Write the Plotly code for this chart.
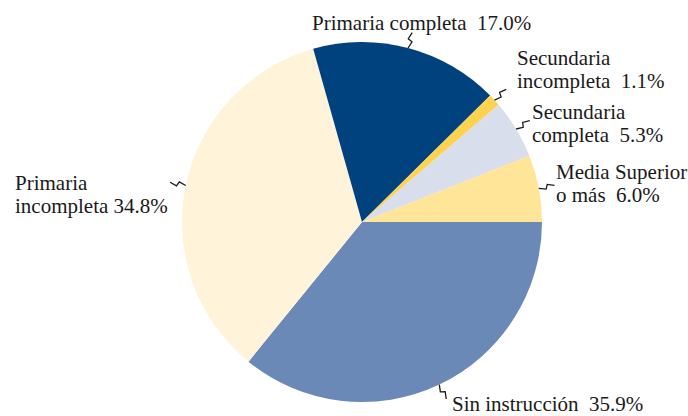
import math
import plotly.graph_objects as go

# ---- data ----
categories = ["Sin instrucción", "Primaria incompleta", "Primaria completa",
              "Secundaria incompleta", "Secundaria completa", "Media Superior o más"]
values = [35.9, 34.8, 17.0, 1.1, 5.3, 6.0]
label_lines = [["Sin instrucción"], ["Primaria", "incompleta"], ["Primaria completa"],
               ["Secundaria", "incompleta"], ["Secundaria", "completa"], ["Media Superior", "o más"]]
pct_sep = ["\u00a0\u00a0", " ", "\u00a0\u00a0", "\u00a0\u00a0", "\u00a0\u00a0", "\u00a0\u00a0"]

# ---- style / layout ----
colors = ["#6b89b6", "#fff4da", "#00427e", "#fdd24e", "#d8deeb", "#ffe598"]
W, H = 688, 416
CX, CY, R = 362, 222, 180
label_pos = [(450, 404), (13, 183), (310, 23), (515, 58), (530, 112), (554, 172)]
LINE_GAP = 23
FONT = dict(family="Liberation Serif, Times New Roman, serif", size=21, color="#1a1a1a")

def px(x):
    return x / W

def py(y):
    return 1 - y / H

fig = go.Figure(go.Pie(
    labels=categories, values=values, sort=False, direction="clockwise", rotation=90,
    marker=dict(colors=colors, line=dict(width=0)), textinfo="none", hoverinfo="label+percent",
    domain=dict(x=[px(CX - R), px(CX + R)], y=[py(CY + R), py(CY - R)]),
    showlegend=False,
))

# leader lines (small zigzags) from slice mid-angles
total = sum(values)
cum = 0.0
shapes = []
for v in values:
    mid = (cum + v / 2) / total
    cum += v
    ang = math.radians(-mid * 360)  # start at east, clockwise
    dx, dy = math.cos(ang), -math.sin(ang)
    nx, ny = -dy, dx
    pts = []
    for t, off in [(0, 0), (7, 2.2), (9, -2.2), (16, 0)]:
        x = CX + (R + t) * dx + off * nx
        y = CY + (R + t) * dy + off * ny
        pts.append((px(x), py(y)))
    path = "M " + " L ".join(f"{a:.5f},{b:.5f}" for a, b in pts)
    shapes.append(dict(type="path", xref="paper", yref="paper", path=path,
                       line=dict(color="#1a1a1a", width=1.3)))

annotations = []
for lines, v, sep, (lx, ly) in zip(label_lines, values, pct_sep, label_pos):
    texts = list(lines)
    texts[-1] = texts[-1] + sep + f"{v:.1f}%"
    for i, t in enumerate(texts):
        annotations.append(dict(text=t, x=px(lx), y=py(ly + i * LINE_GAP), xref="paper", yref="paper",
                                xanchor="left", yanchor="middle", showarrow=False, font=FONT))

fig.update_layout(width=W, height=H, margin=dict(l=0, r=0, t=0, b=0),
                  paper_bgcolor="white", plot_bgcolor="white",
                  shapes=shapes, annotations=annotations)
fig.write_html("out.html", config={"displayModeBar": False},
               post_script="document.body.style.margin='0';document.body.style.overflow='hidden';")
